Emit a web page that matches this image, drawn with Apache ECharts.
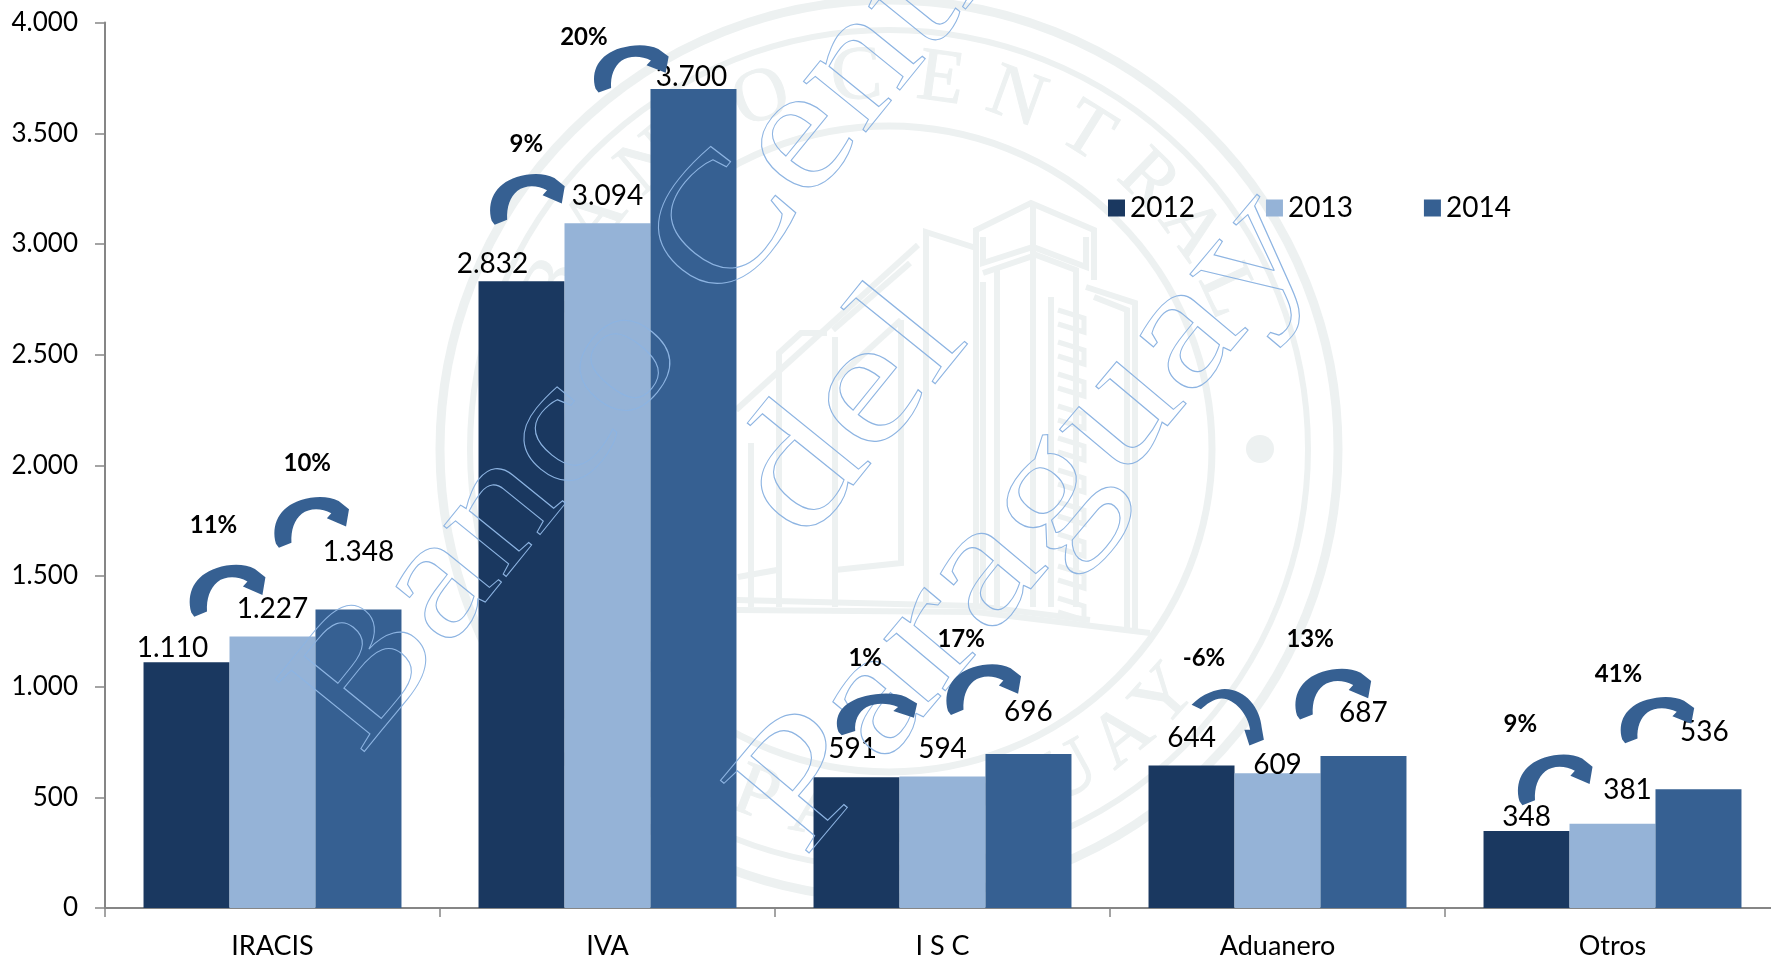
<!DOCTYPE html>
<html>
<head>
<meta charset="utf-8">
<style>html,body{margin:0;padding:0;background:#fff;overflow:hidden;width:1771px;height:960px}#c{width:1780px;height:960px}</style>
<script src="https://cdn.jsdelivr.net/npm/echarts@6/dist/echarts.min.js"></script>
</head>
<body>
<div id="c"></div>
<script>
const categories = ['IRACIS', 'IVA', 'I S C', 'Aduanero', 'Otros'];
const years = ['2012', '2013', '2014'];
const values2012 = [1110, 2832, 591, 644, 348];
const values2013 = [1227, 3094, 594, 609, 381];
const values2014 = [1348, 3700, 696, 687, 536];
const growthLabels = ['11%', '10%', '9%', '20%', '1%', '17%', '-6%', '13%', '9%', '41%'];

const FONT = 'Lato, "Open Sans", sans-serif';
const COLORS = ['#1A3860', '#95B3D7', '#366092'];
const SEAL = '#EDF1F1';
const k = 1771 / 1568;

// data-label nudges (px) [dx, dy] per category, one list per series
const nudge2012 = [[-14, 0], [-29, -3], [-4, -14], [0, -13], [0, 0]];
const nudge2013 = [[0, -13], [0, -13], [0, -14], [0, 6], [15, -20]];
const nudge2014 = [[0, -44], [-2, 2], [0, -28], [0, -29], [6, -43]];

const fmt = v => String(v).replace(/\B(?=(\d{3})+$)/g, '.');

function series(name, vals, nudges, color) {
  return {
    name, type: 'bar', barGap: 0, barCategoryGap: '23%', z: 2,
    itemStyle: { color },
    label: { show: true, position: 'top', distance: 0, color: '#000', fontFamily: FONT, fontSize: 28,
      formatter: p => fmt(p.value) },
    data: vals.map((v, i) => ({ value: v, label: { offset: nudges[i] } }))
  };
}

// ---- decoration: seal watermark behind bars
const cx = 889, cy = 449;
const seal = [];
[[449, 9], [419, 6], [323, 7]].forEach(([r, w]) => seal.push({
  type: 'circle', z: 0, silent: true, shape: { cx, cy, r },
  style: { fill: 'none', stroke: SEAL, lineWidth: w }
}));
seal.push({ type: 'circle', z: 0, silent: true, shape: { cx: 1260, cy: 449, r: 14 }, style: { fill: SEAL } });

function sealLetter(ch, deg, bottom) {
  const r = 372;
  const a = deg * Math.PI / 180;
  const x = cx + r * Math.sin(a);
  const y = bottom ? cy + r * Math.cos(a) : cy - r * Math.cos(a);
  seal.push({ type: 'text', z: 0, silent: true, x, y,
    rotation: bottom ? a : -a,
    style: { text: ch, font: '76px "Liberation Serif", serif', fill: SEAL, stroke: SEAL, lineWidth: 1,
      textAlign: 'center', textVerticalAlign: 'middle' } });
}
[['B', -64], ['A', -52], ['N', -40], ['C', -30], ['O', -20], ['C', -5], ['E', 8], ['N', 20], ['T', 32], ['R', 44], ['A', 54], ['L', 65]]
  .forEach(([c, d]) => sealLetter(c, d, false));
[['P', -21], ['A', -11], ['R', -1], ['A', 9], ['G', 19], ['U', 29], ['A', 39], ['Y', 48]]
  .forEach(([c, d]) => sealLetter(c, d, true));

const buildingLines = [
  [[976,607],[976,230],[1031,203],[1094,230],[1094,280]],
  [[1033,203],[1033,607]],
  [[983,237],[983,263],[1033,247],[1086,267],[1086,237]],
  [[983,282],[983,607]],
  [[983,273],[1036,255],[1076,270],[1076,607]],
  [[997,267],[997,607]],
  [[926,607],[926,232],[976,248]],
  [[918,245],[736,410]],
  [[910,263],[833,330]],
  [[901,320],[835,380]],
  [[901,320],[901,563],[835,570]],
  [[835,337],[835,607]],
  [[827,333],[801,333],[779,353],[779,607]],
  [[751,443],[751,607]],
  [[738,577],[777,570]],
  [[1086,287],[1135,303],[1135,633]],
  [[1094,297],[1127,310],[1127,630]],
  [[1051,297],[1051,607]],
  [[737,610],[976,612],[1150,633]],
  [[737,600],[976,606],[1090,620]]
];
buildingLines.forEach(points => seal.push({ type: 'polyline', z: 0, silent: true, shape: { points },
  style: { fill: 'none', stroke: SEAL, lineWidth: 6 } }));
for (let y = 310; y < 610; y += 32) {
  seal.push({ type: 'polyline', z: 0, silent: true, shape: { points: [[1058, y], [1084, y + 8], [1084, y + 22], [1058, y + 14]] },
    style: { fill: 'none', stroke: SEAL, lineWidth: 5 } });
}

// ---- outlined diagonal watermark over the bars
const wm = [['Banco Central', 360, 756, 1.165, 51], ['del', 804, 545, 1.23, 51], ['Paraguay', 805, 857, 1.23, 50]].map(([text, x, y, sx, deg]) => ({
  type: 'text', z: 10, silent: true, x: x - 103, y: y - 84, rotation: deg * Math.PI / 180, scaleX: sx,
  style: { text, font: '175px "Liberation Serif", serif', fill: 'rgba(0,0,0,0)', stroke: '#8DB4E2', lineWidth: 1,
    textAlign: 'left', textVerticalAlign: 'top' }
}));

// ---- growth arrows and their labels
const ARROW = 'M1,92 C-6,55 5,20 35,6 C52,-2 72,-3 86,8 L100,24 L96,58 L70,42 L76,32 C62,21 46,22 36,33 C26,45 21,65 22,90 L5,100 Z';
const ARROW_DOWN = 'M0,28 C15,8 35,0 46,0 C75,0 95,35 97,68 L100,90 L80,100 L73,72 L81,72 C78,45 60,18 42,17 C30,17 20,28 13,36 Z';
const arrowBoxes = [
  [168, 500, 67, 46], [243, 440, 66, 45], [434, 154, 66, 45], [526, 40, 66, 42], [741, 614, 71, 37],
  [838, 588, 66, 45], [1055, 610, 64, 50], [1147, 592, 67, 45], [1344, 668, 66, 45], [1435, 617, 65, 41]
];
const pctCentres = [
  [189, 465], [272, 410], [466, 128], [517, 33], [766, 583],
  [851, 566], [1066, 583], [1160, 566], [1346, 641], [1433, 597]
];
const arrowSeries = {
  type: 'custom', coordinateSystem: 'none', z: 11, silent: true, legendHoverLink: false,
  data: arrowBoxes.map((b, i) => i),
  renderItem: (params) => {
    const i = params.dataIndex, b = arrowBoxes[i];
    return {
      type: 'path',
      shape: { pathData: i === 6 ? ARROW_DOWN : ARROW, layout: 'cover',
        x: b[0] * k, y: b[1] * k, width: b[2] * k, height: b[3] * k },
      style: { fill: '#366092' }
    };
  }
};
const pcts = growthLabels.map((text, i) => ({
  type: 'text', z: 11, silent: true, x: pctCentres[i][0] * k, y: pctCentres[i][1] * k,
  style: { text, font: 'bold 24px ' + FONT, fill: '#000', textAlign: 'center', textVerticalAlign: 'middle' }
}));

const chart = echarts.init(document.getElementById('c'), null, { renderer: 'canvas' });
chart.setOption({
  animation: false,
  backgroundColor: '#fff',
  color: COLORS,
  grid: { left: 105, right: 0, top: 22.6, height: 886, containLabel: false },
  legend: {
    data: years, left: 1103, top: 189, icon: 'rect', itemWidth: 17, itemHeight: 17, itemGap: 71,
    textStyle: { color: '#000', fontFamily: FONT, fontSize: 28 }
  },
  xAxis: {
    type: 'category', data: categories,
    axisLine: { lineStyle: { color: '#868686', width: 2 } },
    axisTick: { show: true, alignWithLabel: false, length: 9, lineStyle: { color: '#868686', width: 1.5 } },
    axisLabel: { color: '#000', fontFamily: FONT, fontSize: 27, margin: 25 }
  },
  yAxis: {
    type: 'value', min: 0, max: 4000, interval: 500,
    axisLine: { show: true, lineStyle: { color: '#868686', width: 2 } },
    axisTick: { show: true, length: 10, lineStyle: { color: '#868686', width: 1.5 } },
    splitLine: { show: false },
    axisLabel: { color: '#000', fontFamily: FONT, fontSize: 26, margin: 27, formatter: v => fmt(v) }
  },
  series: [
    series(years[0], values2012, nudge2012, COLORS[0]),
    series(years[1], values2013, nudge2013, COLORS[1]),
    series(years[2], values2014, nudge2014, COLORS[2]),
    arrowSeries
  ],
  graphic: { elements: [...seal, ...wm, ...pcts] }
});
</script>
</body>
</html>
